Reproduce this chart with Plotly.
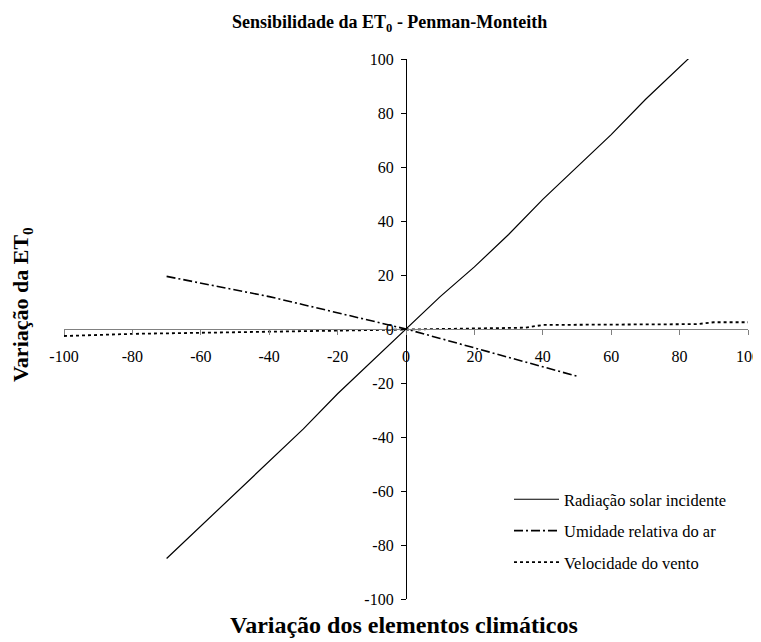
import plotly.graph_objects as go

# Data
rad_x = [-70, -60, -50, -40, -30, -20, -10, 0, 10, 20, 30, 40, 50, 60, 70, 80, 90, 100]
rad_y = [-85, -73, -61, -49, -37, -24, -12, 0, 12, 23, 35, 48, 60, 72, 85, 97, 109, 121]

umid_x = [-70, -60, -50, -40, -30, -20, -10, 0, 10, 20, 30, 40, 50]
umid_y = [19.5, 17, 14.5, 12, 9, 6, 3, 0, -3.5, -7, -10.5, -14, -17.5]

vento_x = [-100, -80, -60, -40, -20, 0, 20, 35, 40, 60, 85, 90, 100]
vento_y = [-2.6, -1.8, -1.4, -1.0, -0.5, 0, 0.4, 0.5, 1.5, 1.6, 1.8, 2.5, 2.5]

names = ["Radiação solar incidente", "Umidade relativa do ar", "Velocidade do vento"]
ticks = [-100, -80, -60, -40, -20, 0, 20, 40, 60, 80, 100]

FONT = "Liberation Serif, Times New Roman, serif"

OFF = 8  # page body margin
W, H = 761 - OFF, 642 - OFF
L, R, T, B = 64 - OFF, 13, 59 - OFF, 43
PW, PH = W - L - R, H - T - B


def px_x(x):
    return (x - OFF - L) / PW


def px_y(y):
    return (H - B - (y - OFF)) / PH


fig = go.Figure()
fig.add_trace(go.Scatter(x=rad_x, y=rad_y, mode="lines", name=names[0], legendgroup="a",
                         line=dict(color="black", width=1.2)))
fig.add_trace(go.Scatter(x=umid_x, y=umid_y, mode="lines", name=names[1], legendgroup="b",
                         line=dict(color="black", width=1.6, dash="9px,3px,2px,3px")))
fig.add_trace(go.Scatter(x=vento_x, y=vento_y, mode="lines", name=names[2], legendgroup="c",
                         line=dict(color="black", width=1.8, dash="3px,3px")))

fig.update_layout(
    width=W, height=H,
    margin=dict(l=L, r=R, t=T, b=B, autoexpand=False),
    paper_bgcolor="white", plot_bgcolor="white",
    font=dict(family=FONT, size=16, color="black"),
    showlegend=True,
    legend=dict(x=px_x(509), y=px_y(482), xanchor="left", yanchor="top",
                bgcolor="rgba(0,0,0,0)", font=dict(size=16.5, family=FONT),
                tracegroupgap=7, itemwidth=45),
    xaxis=dict(range=[-100, 100], tickvals=ticks, ticktext=[str(t) for t in ticks],
               showgrid=False, zeroline=False, showline=True, linecolor="#808080", linewidth=1.2,
               ticks="outside", ticklen=5, tickcolor="#808080",
               anchor="free", position=0.5, side="bottom", automargin=False,
               ticklabelstandoff=8, ticklabeloverflow="allow",
               tickfont=dict(family=FONT, size=16)),
    yaxis=dict(range=[-100, 100], tickvals=ticks, ticktext=[str(t) for t in ticks],
               showgrid=False, zeroline=False, showline=True, linecolor="black", linewidth=1.2,
               ticks="outside", ticklen=5, tickcolor="black",
               anchor="free", position=0.5, side="left", automargin=False,
               ticklabelstandoff=4,
               tickfont=dict(family=FONT, size=16)),
    annotations=[
        dict(text="<b>Sensibilidade da ET<sub>0</sub> - Penman-Monteith</b>", xref="paper", yref="paper",
             x=px_x(389), y=px_y(24), xanchor="center", yanchor="middle",
             showarrow=False, font=dict(family=FONT, size=18)),
        dict(text="<b>Variação dos elementos climáticos</b>", xref="paper", yref="paper",
             x=px_x(404), y=px_y(625), xanchor="center", yanchor="middle",
             showarrow=False, font=dict(family=FONT, size=24)),
        dict(text="<b>Variação da ET<sub>0</sub></b>", xref="paper", yref="paper",
             x=px_x(22), y=px_y(305), xanchor="center", yanchor="middle",
             textangle=-90, showarrow=False, font=dict(family=FONT, size=22)),
    ],
)

fig.write_html("out.html")
